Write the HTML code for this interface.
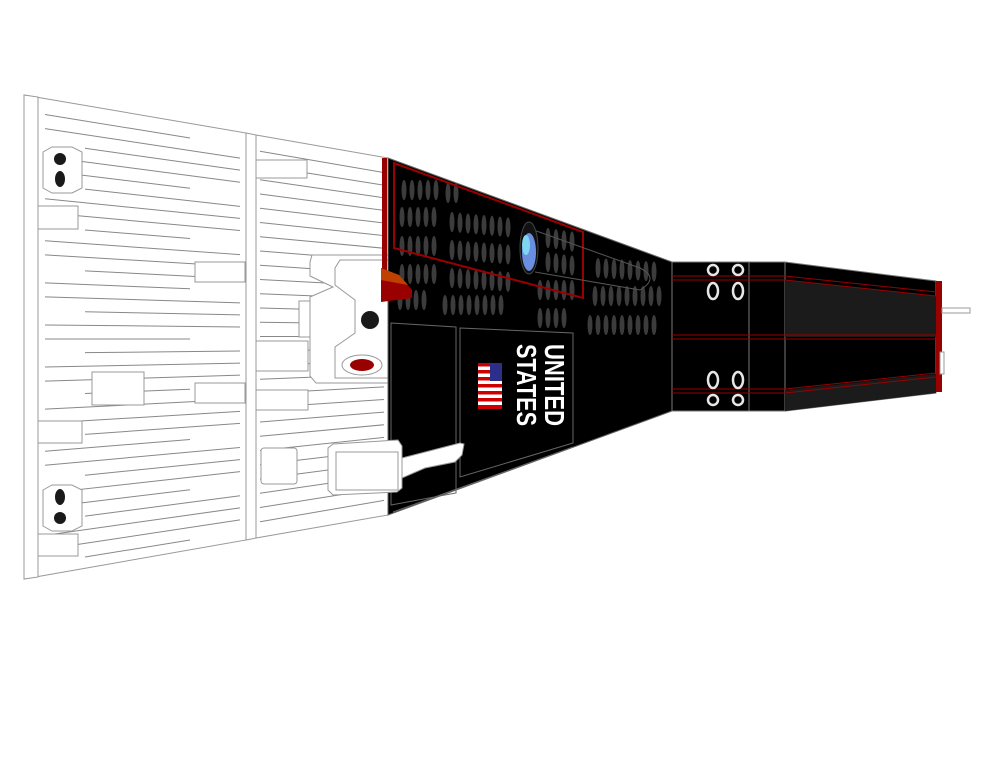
<!DOCTYPE html>
<html><head><meta charset="utf-8"><style>
html,body{margin:0;padding:0;background:#fff;width:990px;height:765px;overflow:hidden}
svg{display:block}
</style></head><body>
<svg id="s" width="990" height="765" viewBox="0 0 990 765" xmlns="http://www.w3.org/2000/svg">
<g stroke="#999" stroke-width="1" fill="#fff">
<polygon points="24,95 246,133 246,540 24,579"/>
<polygon points="24,95 38,97 38,577 24,579"/>
<polygon points="246,133 256,135 256,538 246,540"/>
<polygon points="256,135 388,158 388,515 256,538"/>
</g>
<g id="lines" stroke="#888" stroke-width="1" fill="none"></g>
<g stroke="#999" fill="#fff">
<rect x="38" y="206" width="40" height="23"/>
<rect x="195" y="262" width="50" height="20"/>
<rect x="92" y="372" width="52" height="33"/>
<rect x="195" y="383" width="50" height="20"/>
<rect x="38" y="421" width="44" height="22"/>
<rect x="38" y="534" width="40" height="22"/>
<rect x="256" y="160" width="51" height="18"/>
<rect x="256" y="341" width="52" height="30"/>
<rect x="256" y="390" width="52" height="20"/>
<rect x="299" y="301" width="40" height="36"/>
<rect x="261" y="448" width="36" height="36" rx="3"/>
<path d="M312,255 L388,255 L388,383 L316,383 L310,376 L310,297 L333,287 L310,276 L310,262 Z"/>
<path d="M340,260 L388,260 L388,378 L335,378 L335,347 L355,333 L355,300 L335,285 L335,268 Z"/>
<ellipse cx="362" cy="365" rx="20" ry="10"/>
<path d="M43,152 L52,147 L72,147 L82,152 L82,188 L72,193 L52,193 L43,188 Z"/>
<path d="M43,490 L52,485 L72,485 L82,490 L82,526 L72,531 L52,531 L43,526 Z"/>
</g>
<circle cx="370" cy="320" r="9" fill="#1a1a1a"/>
<ellipse cx="362" cy="365" rx="12" ry="6" fill="#990000"/>
<circle cx="60" cy="159" r="6" fill="#1a1a1a"/>
<ellipse cx="60" cy="179" rx="5" ry="8" fill="#1a1a1a"/>
<ellipse cx="60" cy="497" rx="5" ry="8" fill="#1a1a1a"/>
<circle cx="60" cy="518" r="6" fill="#1a1a1a"/>

<polygon points="388,158 672,262 672,411 388,515" fill="#000" stroke="#666"/>
<g id="vents" fill="#3c3c3c"></g>
<polygon points="394,163 583,232 583,298 394,248" fill="none" stroke="#990000" stroke-width="2"/>
<path d="M528,228 L640,268 Q660,278 640,290 L535,272" fill="none" stroke="#555"/>
<ellipse cx="529" cy="248" rx="9" ry="26" fill="#111" stroke="#444"/>
<ellipse cx="529" cy="252" rx="7" ry="19" fill="#6a8ee0"/>
<ellipse cx="526" cy="245" rx="4" ry="10" fill="#7fd6f0"/>
<polygon points="391,323 456,327 456,493 391,505" fill="none" stroke="#666"/>
<polygon points="460,328 573,333 573,443 460,477" fill="none" stroke="#666"/>
<polyline points="393,512 573,447" fill="none" stroke="#666"/>
<rect x="478" y="363" width="24" height="46" fill="#c00"/>
<g fill="#fff"><rect x="478" y="366.5" width="24" height="3.5"/><rect x="478" y="373.5" width="24" height="3.5"/><rect x="478" y="380.5" width="24" height="3.5"/><rect x="478" y="387.5" width="24" height="3.5"/><rect x="478" y="394.5" width="24" height="3.5"/><rect x="478" y="401.5" width="24" height="3.5"/></g>
<rect x="490" y="363" width="12" height="18" fill="#2b2f8a"/>
<text transform="translate(545,344) rotate(90)" font-family="Liberation Sans, sans-serif" font-weight="bold" font-size="28" fill="#fff" textLength="82" lengthAdjust="spacingAndGlyphs">UNITED</text>
<text transform="translate(517,344) rotate(90)" font-family="Liberation Sans, sans-serif" font-weight="bold" font-size="28" fill="#fff" textLength="82" lengthAdjust="spacingAndGlyphs">STATES</text>
<path d="M402,458 L460,443 L464,444 L462,455 L455,462 L425,468 L402,478 Z" fill="#fff" stroke="#999"/>
<path d="M333,444 L398,440 L402,446 L402,488 L397,492 L333,495 L328,490 L328,448 Z" fill="#fff" stroke="#999"/>
<rect x="336" y="452" width="62" height="38" fill="#fff" stroke="#999"/>
<rect x="382" y="158" width="5" height="114" fill="#990000"/>
<polygon points="381,268 399,275 412,290 412,298 381,302" fill="#990000"/>
<polygon points="381,268 399,275 408,285 381,280" fill="#c04000"/>

<rect x="672" y="262" width="113" height="149" fill="#000" stroke="#777"/>
<line x1="749" y1="262" x2="749" y2="411" stroke="#777"/>
<polygon points="785,262 936,281 936,393 785,411" fill="#000" stroke="#777"/>
<polygon points="785,280 936,296 936,337 785,337" fill="#1b1b1b"/>
<polygon points="785,390 936,374 936,393 785,411" fill="#1b1b1b"/>
<g fill="none" stroke="#990000" stroke-width="1">
<polyline points="672,276 785,276 936,292"/><polyline points="672,280 785,280 936,296"/>
<line x1="672" y1="335" x2="936" y2="335"/><line x1="672" y1="339" x2="936" y2="339"/>
<polyline points="672,389 785,389 936,373"/><polyline points="672,393 785,393 936,377"/>
</g>
<rect x="936" y="281" width="6" height="111" fill="#990000"/>
<rect x="942" y="308" width="28" height="5" fill="#fff" stroke="#999"/>
<rect x="940" y="352" width="4" height="22" fill="#fff" stroke="#999"/>
<g fill="none" stroke="#e6e6e6" stroke-width="2.5">
<circle cx="713" cy="270" r="5"/><circle cx="738" cy="270" r="5"/>
<ellipse cx="713" cy="291" rx="5" ry="8"/><ellipse cx="738" cy="291" rx="5" ry="8"/>
<ellipse cx="713" cy="380" rx="5" ry="8"/><ellipse cx="738" cy="380" rx="5" ry="8"/>
<circle cx="713" cy="400" r="5"/><circle cx="738" cy="400" r="5"/>
</g>
</svg>
<script>
var NS="http://www.w3.org/2000/svg";
function ln(g,x1,y1,x2,y2){var l=document.createElementNS(NS,"line");l.setAttribute("x1",x1);l.setAttribute("y1",y1);l.setAttribute("x2",x2);l.setAttribute("y2",y2);g.appendChild(l);}
var g=document.getElementById("lines");
for(var i=1;i<34;i++){var t=i/34;var xs=(i%3==0)?85:45;var xe=(i%4==1)?190:240;ln(g,xs,98+t*478+2+(xs-42)*(34-68*t)/198,xe,98+t*478+2+(xe-42)*(34-68*t)/198);}
for(var i=1;i<28;i++){var t=i/28;ln(g,260,137+t*399,384,160+t*353);}
var v=document.getElementById("vents");
function row(x0,x1,yA,yB,step){for(var x=x0;x<=x1;x+=step){var y=yA+(yB-yA)*(x-x0)/Math.max(1,(x1-x0));var e=document.createElementNS(NS,"ellipse");e.setAttribute("cx",x);e.setAttribute("cy",y);e.setAttribute("rx",2.5);e.setAttribute("ry",10);v.appendChild(e);}}
row(404,436,190,190,8);row(448,456,193,193,8);
row(402,440,217,217,8);row(452,515,222,228,8);
row(402,440,246,246,8);row(452,515,250,255,8);row(548,575,238,242,8);
row(402,440,274,274,8);row(452,510,278,282,8);row(548,575,262,266,8);row(598,660,268,272,8);
row(400,430,300,300,8);row(445,505,305,305,8);row(540,575,290,290,8);row(595,660,296,296,8);
row(540,570,318,318,8);row(590,655,325,325,8);
</script>
</body></html>
